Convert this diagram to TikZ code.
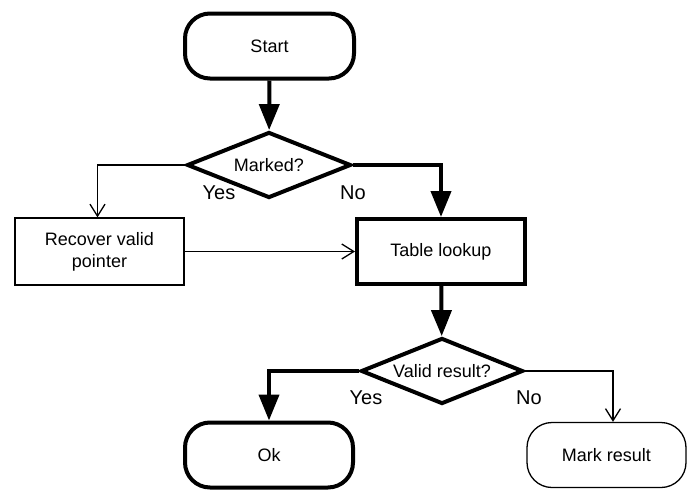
\documentclass[tikz,border=0pt]{standalone}
\usepackage{fontspec}
\setmainfont{Liberation Sans}
\usetikzlibrary{arrows.meta,shapes.geometric}

\begin{document}
\begin{tikzpicture}[x=1pt,y=-1pt,font=\fontsize{18}{22}\selectfont,
  term/.style={draw,rounded corners=25pt,minimum width=169pt,minimum height=65pt},
  proc/.style={draw,minimum width=169pt,minimum height=67pt,align=center},
  test/.style={draw,diamond,aspect=2.5,minimum width=164pt,minimum height=66pt,inner sep=0pt},
  heavy/.style={line width=4pt},
  light/.style={line width=1.3pt},
  bigarrow/.style={heavy,-{Triangle[length=26pt,width=20pt]}},
  smallarrow/.style={light,-{Straight Barb[length=12pt,width=15pt]}},
  lbl/.style={inner sep=0pt,font=\fontsize{20}{24}\selectfont}]

\useasboundingbox (0,0) rectangle (689,491);

\node[term,heavy]  (start)   at (269.5,46)  {Start};
\node[test,heavy]  (marked)  at (269,165)   {Marked?};
\node[proc,light]  (recover) at (99.5,251.5) {Recover valid\\pointer};
\node[proc,heavy,minimum width=168pt,minimum height=65pt] (lookup) at (441,251.5) {Table lookup};
\node[test,heavy,minimum width=162pt]  (valid) at (442,371) {Valid result?};
\node[term,heavy,minimum width=168pt] (ok) at (269,455) {Ok};
\node[term,light,minimum width=159pt] (mark) at (606.5,455) {Mark result};

\node[lbl] (yes1) at (219,193) {Yes};
\node[lbl] (no1)  at (353,193) {No};
\node[lbl] (yes2) at (366,398) {Yes};
\node[lbl] (no2)  at (529,398) {No};

\draw[bigarrow]   (start) -- (marked);
\draw[smallarrow] (marked.west) -| ([xshift=-2pt]recover.north);
\draw[bigarrow]   (marked.east) -| (lookup.north);
\draw[smallarrow] (recover) -- (lookup);
\draw[bigarrow]   (lookup) -- (valid);
\draw[bigarrow]   (valid.west) -| (ok.north);
\draw[smallarrow] (valid.east) -| ([xshift=6.5pt]mark.north);
\end{tikzpicture}
\end{document}
